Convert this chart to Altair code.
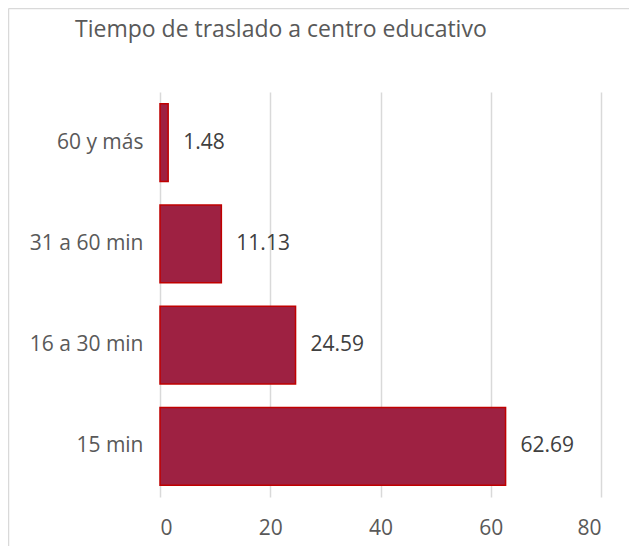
import altair as alt
import pandas as pd

categorias = ["60 y más", "31 a 60 min", "16 a 30 min", "15 min"]
valores = [1.48, 11.13, 24.59, 62.69]
etiquetas = ["1.48", "11.13", "24.59", "62.69"]
titulo = "Tiempo de traslado a centro educativo"

df = pd.DataFrame({"cat": categorias, "val": valores, "lab": etiquetas})

FONT = "Open Sans"

y_enc = alt.Y("cat:N", sort=categorias,
              scale=alt.Scale(paddingInner=0.23, paddingOuter=0.115),
              axis=alt.Axis(title=None, ticks=False, domain=False, grid=False,
                            labelPadding=17, labelFontSize=21, labelFont=FONT,
                            labelColor="#595959", labelAlign="right"))
x_enc = alt.X("val:Q", scale=alt.Scale(domain=[0, 80], nice=False),
              axis=alt.Axis(title=None, values=[0, 20, 40, 60, 80], ticks=False,
                            domain=False, grid=True, gridColor="#D9D9D9", gridWidth=1.5,
                            labelPadding=20, labelFontSize=21, labelFont=FONT,
                            labelColor="#595959"))

base = alt.Chart(df)

bars = base.mark_bar(color="#9E2142", stroke="#C00000", strokeWidth=1.5).encode(
    x=x_enc, y=y_enc)

text = base.mark_text(align="left", baseline="middle", dx=15, fontSize=21,
                      font=FONT, color="#404040").encode(
    x="val:Q", y=alt.Y("cat:N", sort=categorias), text="lab:N")

single = alt.Chart(alt.Data(values=[{"t": titulo}]))
left_line = single.mark_rule(color="#D9D9D9", strokeWidth=1.5).encode(
    x=alt.value(-151.5), y=alt.value(-83.5), y2=alt.value(470))
top_line = single.mark_rule(color="#D9D9D9", strokeWidth=1.5).encode(
    x=alt.value(-151.5), x2=alt.value(480), y=alt.value(-83.5))
title_mark = single.mark_text(align="left", baseline="middle", fontSize=23,
                              font=FONT, color="#595959").encode(
    x=alt.value(-85), y=alt.value(-62), text="t:N")

chart = alt.layer(left_line, top_line, title_mark, bars, text).properties(
    width=441, height=405,
    autosize=alt.AutoSizeParams(type="none"),
    padding={"left": 152, "top": 84, "right": 28, "bottom": 49},
).configure_view(stroke=None)

chart.save("out.html", embed_options={"renderer": "svg", "actions": False})
